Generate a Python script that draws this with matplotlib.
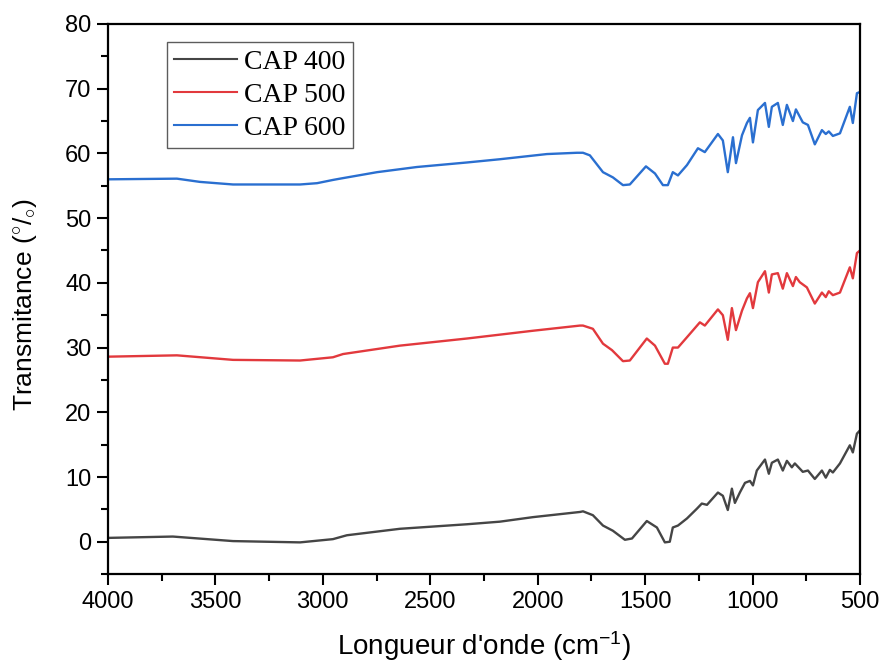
import matplotlib
matplotlib.use("Agg")
import matplotlib.pyplot as plt
from matplotlib.ticker import MultipleLocator

plt.rcParams['font.family'] = ['Liberation Sans', 'DejaVu Sans']
plt.rcParams['mathtext.fontset'] = 'custom'
plt.rcParams['mathtext.rm'] = 'Liberation Sans'
plt.rcParams['mathtext.it'] = 'Liberation Sans:italic'

# FTIR spectra: wavenumber (cm-1) and transmittance for each sample
wn_400 = [4000, 3991, 3698, 3418, 3106, 2953, 2888, 2641, 2329, 2176, 2022, 1803, 1789,
          1743, 1696, 1650, 1594, 1561, 1492, 1445, 1408, 1385, 1371, 1347, 1305, 1259,
          1236, 1212, 1161, 1138, 1115, 1096, 1082, 1059, 1035, 1012, 998, 980, 942, 924,
          910, 882, 859, 840, 817, 803, 766, 742, 710, 677, 659, 640, 626, 593, 547, 533,
          514, 500]
tr_400 = [0.6, 0.6, 0.8, 0.1, -0.1, 0.4, 1.0, 2.0, 2.7, 3.1, 3.8, 4.6, 4.7,
          4.1, 2.5, 1.7, 0.3, 0.5, 3.2, 2.2, -0.1, 0.0, 2.2, 2.5, 3.6, 5.1,
          5.9, 5.7, 7.6, 7.1, 4.9, 8.2, 6.0, 7.6, 9.1, 9.4, 8.7, 11.0, 12.7, 10.5,
          12.2, 12.7, 11.0, 12.5, 11.5, 12.1, 10.8, 11.0, 9.7, 11.0, 9.9, 11.1, 10.7, 12.1, 14.9, 13.8,
          16.7, 17.2]

wn_500 = [4000, 3991, 3679, 3418, 3106, 2953, 2906, 2641, 2329, 2022, 1803, 1789, 1743,
          1696, 1654, 1603, 1571, 1492, 1454, 1408, 1394, 1371, 1347, 1305, 1245, 1222,
          1161, 1138, 1115, 1096, 1077, 1049, 1026, 1012, 998, 975, 942, 924, 910, 882,
          859, 840, 812, 798, 780, 747, 710, 677, 659, 645, 626, 593, 547, 533, 514, 500]
tr_500 = [28.6, 28.6, 28.8, 28.1, 28.0, 28.5, 29.0, 30.3, 31.4, 32.6, 33.4, 33.4, 32.9,
          30.6, 29.6, 27.9, 28.0, 31.4, 30.3, 27.5, 27.5, 30.0, 30.0, 31.6, 33.9, 33.4,
          35.9, 35.0, 31.2, 36.1, 32.7, 35.7, 37.6, 38.4, 36.1, 40.1, 41.8, 38.5, 41.3, 41.5,
          39.1, 41.5, 39.5, 40.9, 40.1, 39.3, 36.8, 38.5, 37.8, 38.7, 38.1, 38.5, 42.4, 40.7, 44.6, 45.0]

wn_600 = [4000, 3991, 3679, 3572, 3418, 3106, 3027, 2953, 2920, 2748, 2562, 2329, 2176,
          1957, 1817, 1789, 1757, 1696, 1650, 1603, 1571, 1496, 1454, 1417, 1394, 1371,
          1347, 1305, 1254, 1222, 1161, 1138, 1115, 1091, 1077, 1049, 1026, 1012, 998, 975,
          942, 924, 910, 882, 859, 840, 812, 798, 766, 742, 710, 677, 659, 645, 626, 593,
          547, 533, 514, 500]
tr_600 = [56.0, 56.0, 56.1, 55.6, 55.2, 55.2, 55.4, 55.9, 56.1, 57.1, 57.9, 58.6, 59.1,
          59.9, 60.1, 60.1, 59.7, 57.1, 56.3, 55.1, 55.2, 58.0, 56.9, 55.1, 55.1, 57.1,
          56.6, 58.2, 60.8, 60.2, 63.0, 62.0, 57.1, 62.5, 58.5, 62.8, 64.7, 65.5, 61.7, 66.7,
          67.8, 64.1, 67.2, 67.8, 64.4, 67.5, 65.0, 66.8, 64.8, 64.4, 61.4, 63.6, 63.0, 63.4, 62.7, 63.1,
          67.2, 64.7, 69.3, 69.5]

labels = ['CAP 400', 'CAP 500', 'CAP 600']
colors = ['#454545', '#e2393d', '#2a6fd0']

fig = plt.figure(figsize=(8.8, 6.66), dpi=100)
ax = fig.add_axes([0.1227, 0.138, 0.8545, 0.826])

for wn, tr, lab, col in zip([wn_400, wn_500, wn_600], [tr_400, tr_500, tr_600], labels, colors):
    ax.plot(wn, tr, color=col, lw=1.7, label=lab, solid_joinstyle='round')

ax.set_xlim(4000, 500)
ax.set_ylim(-5, 80)
ax.xaxis.set_major_locator(MultipleLocator(500))
ax.xaxis.set_minor_locator(MultipleLocator(250))
ax.yaxis.set_major_locator(MultipleLocator(10))
ax.yaxis.set_minor_locator(MultipleLocator(5))
ax.tick_params(which='major', direction='out', length=8, width=1.5, labelsize=17, pad=4)
ax.tick_params(which='minor', direction='out', length=5, width=1.5)
for sp in ax.spines.values():
    sp.set_linewidth(1.6)

ax.set_xlabel(r"Longueur d'onde (cm$^{\mathrm{-1}}$)", fontsize=20, labelpad=12)
ax.set_ylabel(r"Transmitance ($^{\circ}$/$_{\circ}$)", fontsize=19)
ax.yaxis.set_label_coords(-0.092, 0.49)

leg = ax.legend(loc='upper left', bbox_to_anchor=(0.078, 0.967), borderaxespad=0,
                prop={'family': 'Liberation Serif', 'size': 20}, frameon=True,
                fancybox=False, labelspacing=0.28, handlelength=2.3, handletextpad=0.25,
                borderpad=0.25)
leg.get_frame().set_edgecolor('#333333')
leg.get_frame().set_linewidth(1.0)
for ln in leg.get_lines():
    ln.set_linewidth(1.5)

fig.savefig('out.png', dpi=100)
